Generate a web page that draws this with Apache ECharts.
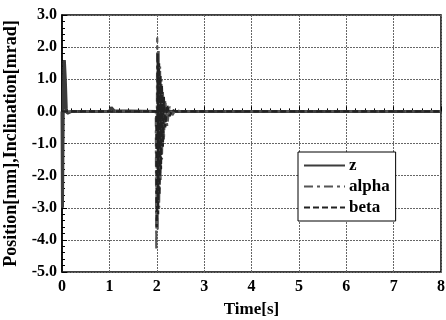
<!DOCTYPE html>
<html>
<head>
<meta charset="utf-8">
<script src="https://cdn.jsdelivr.net/npm/echarts@6/dist/echarts.min.js"></script>
<style>
  html, body { margin: 0; padding: 0; background: #fff; }
  #chart { width: 446px; height: 320px; }
</style>
</head>
<body>
<div id="chart"></div>
<script>
const yTicks = [-5, -4, -3, -2, -1, 0, 1, 2, 3]
const xTicks = [0, 1, 2, 3, 4, 5, 6, 7, 8]

// [time s, value]
const zData = [
  [0, 0], [0.01, -3.0], [0.03, 0.6], [0.05, 1.6], [0.07, 1.0], [0.09, 0.1],
  [0.11, -0.06], [0.14, -0.05], [0.2, 0], [1.0, 0], [1.04, 0.12], [1.07, 0.15],
  [1.1, 0.02], [1.14, 0], [2.0, 0], [2.05, 0.06], [2.1, -0.04], [2.2, 0.03],
  [2.3, 0], [8, 0]
]
const alphaData = [
  [0, 0], [1.98, 0], [1.99, -4.3], [2.01, 2.3], [2.02, -3.7], [2.04, 1.9],
  [2.05, -3.0], [2.07, 1.4], [2.08, -2.2], [2.1, 1.0], [2.11, -1.5],
  [2.13, 0.6], [2.15, -0.9], [2.18, 0.35], [2.22, -0.45], [2.27, 0.15],
  [2.33, -0.12], [2.4, 0.05], [2.5, 0], [8, 0]
]
const betaData = [
  [0, 0], [1.99, 0], [2.0, -3.6], [2.02, 1.8], [2.03, -3.2], [2.05, 1.5],
  [2.06, -2.6], [2.08, 1.1], [2.09, -1.8], [2.11, 0.8], [2.13, -1.1],
  [2.15, 0.45], [2.18, -0.5], [2.22, 0.2], [2.27, -0.15], [2.33, 0.05],
  [2.4, 0], [8, 0]
]

const font = 'Liberation Serif'

const chart = echarts.init(document.getElementById('chart'), null, { renderer: 'canvas' })

chart.setOption({
  animation: false,
  backgroundColor: '#fff',
  grid: {
    left: 62, right: 5, top: 15, bottom: 48,
    outerBoundsMode: 'none', containLabel: false,
    show: true, borderColor: '#000', borderWidth: 1.5
  },
  legend: {
    left: 298, top: 152, orient: 'vertical',
    backgroundColor: '#fff', borderColor: '#000', borderWidth: 1,
    padding: [5, 6, 5, 5], itemWidth: 41, itemHeight: 16, itemGap: 4,
    borderRadius: 0,
    itemStyle: { opacity: 0 },
    textStyle: { fontFamily: font, fontWeight: 'bold', fontSize: 17, color: '#000', padding: [0, 0, 0, -1] },
    data: ['z', 'alpha', 'beta']
  },
  xAxis: {
    type: 'value', min: xTicks[0], max: xTicks[xTicks.length - 1], interval: 1,
    name: 'Time[s]', nameLocation: 'middle', nameGap: 29,
    nameTextStyle: { fontFamily: font, fontWeight: 'bold', fontSize: 17, color: '#000' },
    axisLine: { lineStyle: { color: '#000', width: 1.5 } },
    axisTick: { inside: true, length: 5, lineStyle: { color: '#000' } },
    minorTick: { show: true, splitNumber: 5, length: 3, lineStyle: { color: '#000' } },
    axisLabel: { fontFamily: font, fontWeight: 'bold', fontSize: 16, color: '#000', margin: 7 },
    splitLine: { show: true, lineStyle: { color: '#666', type: [2, 1], width: 1 } }
  },
  yAxis: {
    type: 'value', min: yTicks[0], max: yTicks[yTicks.length - 1], interval: 1,
    name: 'Position[mm],Inclination[mrad]', nameLocation: 'middle', nameGap: 34,
    nameTextStyle: { fontFamily: font, fontWeight: 'bold', fontSize: 18, color: '#000' },
    axisLine: { lineStyle: { color: '#000', width: 1.5 } },
    axisTick: { inside: true, length: 5, lineStyle: { color: '#000' } },
    minorTick: { show: true, splitNumber: 5, length: 3, lineStyle: { color: '#000' } },
    axisLabel: {
      fontFamily: font, fontWeight: 'bold', fontSize: 16, color: '#000', margin: 5,
      formatter: v => v.toFixed(1)
    },
    splitLine: { show: true, lineStyle: { color: '#666', type: [2, 1], width: 1 } }
  },
  series: [
    {
      name: 'z', type: 'line', data: zData, symbol: 'none',
      lineStyle: { color: '#3c3c3c', width: 3 }, itemStyle: { color: '#3c3c3c' }, z: 3
    },
    {
      name: 'alpha', type: 'line', data: alphaData, symbol: 'none',
      lineStyle: { color: '#555', width: 2.2, type: [9, 4, 3, 4] }, itemStyle: { color: '#555' }
    },
    {
      name: 'beta', type: 'line', data: betaData, symbol: 'none',
      lineStyle: { color: '#222', width: 2.2, type: [6, 3] }, itemStyle: { color: '#222' }
    }
  ]
})
</script>
</body>
</html>
